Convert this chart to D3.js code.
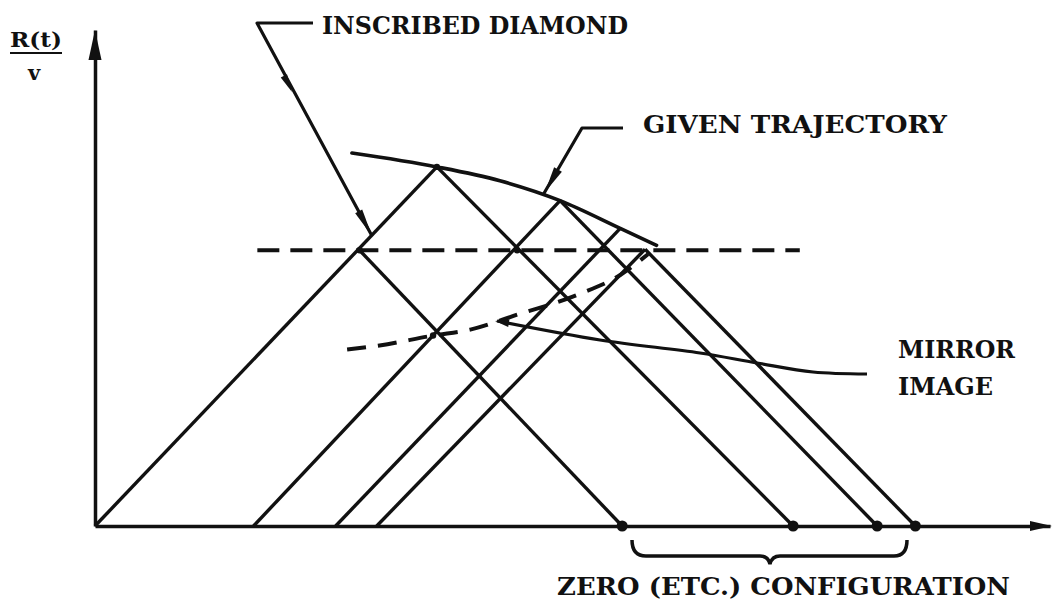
<!DOCTYPE html>
<html>
<head>
<meta charset="utf-8">
<script src="https://cdn.jsdelivr.net/npm/d3@7.9.0/dist/d3.min.js"></script>
<style>
  html, body { margin: 0; padding: 0; background: #fff; }
  svg { display: block; }
  .lbl { font-family: 'DejaVu Serif', 'Liberation Serif', serif; font-weight: bold; fill: #111; }
</style>
</head>
<body>
<div id="chart"></div>
<script>
// time axis (t) and R(t)/v values
const trajT = [26.9, 35.8, 42.4, 48.7, 55.0, 58.8];
const trajR = [37.6, 36.2, 34.8, 32.8, 30.0, 28.3];

const mirrorT = [26.4, 29.8, 35.4, 39.3, 44.2, 50.5, 55.0, 57.9];
const mirrorR = [17.8, 18.2, 19.2, 19.8, 21.3, 23.3, 25.3, 27.4];

// rising 45 deg lines: foot on the t axis -> top point
const riseFootT = [0, 16.6, 25.2, 29.5];
const riseTopT  = [35.8, 48.7, 55.0, 57.6];
const riseTopR  = [36.2, 32.8, 30.0, 27.9];

// falling 45 deg lines: start point -> foot on the t axis
const fallStartT = [35.8, 27.7, 48.7, 57.6];
const fallStartR = [36.2, 27.8, 32.8, 27.9];
const fallFootT  = [73.1, 55.2, 81.9, 85.9];

const levelR = 27.8;
const levelSpanT = [17.0, 73.8];

const zeroT = [55.2, 73.1, 81.9, 85.9];

const cornerT = [27.7, 44.2, 35.4, 35.8];
const cornerR = [27.8, 27.8, 19.2, 36.2];

const width = 1054, height = 602;

const svg = d3.select('#chart').append('svg')
  .attr('width', width)
  .attr('height', height);

const x = d3.scaleLinear().domain([0, 100]).range([95, 1050]);
const y = d3.scaleLinear().domain([0, 50]).range([526, 30]);

const ink = '#111';

// axes, no ticks
svg.append('g')
  .attr('transform', `translate(0,${y(0)})`)
  .call(d3.axisBottom(x).ticks(0).tickSizeOuter(0))
  .call(g => g.select('.domain').attr('stroke', ink).attr('stroke-width', 3.5));

svg.append('g')
  .attr('transform', `translate(${x(0)},0)`)
  .call(d3.axisLeft(y).ticks(0).tickSizeOuter(0))
  .call(g => g.select('.domain').attr('stroke', ink).attr('stroke-width', 3.5));

// filled arrow head: tip point, direction taken from a point behind it
function arrowHead(tip, from, len, half) {
  const dx = tip[0] - from[0], dy = tip[1] - from[1];
  const d = Math.hypot(dx, dy);
  const ux = dx / d, uy = dy / d;
  const bx = tip[0] - ux * len, by = tip[1] - uy * len;
  return [tip, [bx - uy * half, by + ux * half], [bx + uy * half, by - ux * half]];
}

function drawHead(tip, from, len, half) {
  svg.append('polygon')
    .attr('points', arrowHead(tip, from, len, half).join(' '))
    .attr('fill', ink);
}

drawHead([x(100) + 2, y(0)], [x(0), y(0)], 22, 5);
drawHead([x(0), y(50)], [x(0), y(0)], 30, 6.5);

// 45 degree lines
const segs = [];
riseFootT.forEach((t, i) => segs.push([[t, 0], [riseTopT[i], riseTopR[i]]]));
fallStartT.forEach((t, i) => segs.push([[t, fallStartR[i]], [fallFootT[i], 0]]));

svg.append('g').selectAll('line')
  .data(segs)
  .join('line')
    .attr('x1', d => x(d[0][0])).attr('y1', d => y(d[0][1]))
    .attr('x2', d => x(d[1][0])).attr('y2', d => y(d[1][1]))
    .attr('stroke', ink)
    .attr('stroke-width', 3.4);

// horizontal dashed level
svg.append('line')
  .attr('x1', x(levelSpanT[0])).attr('x2', x(levelSpanT[1]))
  .attr('y1', y(levelR)).attr('y2', y(levelR))
  .attr('stroke', ink)
  .attr('stroke-width', 4)
  .attr('stroke-dasharray', '22,11');

const curve = d3.line()
  .x(d => x(d[0]))
  .y(d => y(d[1]))
  .curve(d3.curveMonotoneX);

// given trajectory
svg.append('path')
  .attr('d', curve(trajT.map((t, i) => [t, trajR[i]])))
  .attr('fill', 'none')
  .attr('stroke', ink)
  .attr('stroke-width', 3.6)
  .attr('stroke-linecap', 'round');

// mirror image (dashed)
svg.append('path')
  .attr('d', curve(mirrorT.map((t, i) => [t, mirrorR[i]])))
  .attr('fill', 'none')
  .attr('stroke', ink)
  .attr('stroke-width', 4)
  .attr('stroke-dasharray', '19,12');

// dots
svg.append('g').selectAll('circle')
  .data(zeroT)
  .join('circle')
    .attr('cx', d => x(d))
    .attr('cy', y(0))
    .attr('r', 5.5)
    .attr('fill', ink);

svg.append('g').selectAll('circle')
  .data(cornerT)
  .join('circle')
    .attr('cx', d => x(d))
    .attr('cy', (d, i) => y(cornerR[i]))
    .attr('r', 3.2)
    .attr('fill', ink);

// pointer lines
const pointer = d3.line();
function leader(pts, w) {
  svg.append('path')
    .attr('d', pointer(pts))
    .attr('fill', 'none')
    .attr('stroke', ink)
    .attr('stroke-width', w)
    .attr('stroke-linejoin', 'round');
}

// inscribed diamond
leader([[313, 23], [257, 23], [372, 236]], 3.2);
drawHead([292, 92], [257, 23], 18, 3.5);
drawHead([372, 236], [257, 23], 28, 4);

// given trajectory
leader([[623, 128], [582, 128], [543, 195]], 3.2);
drawHead([545, 192], [582, 128], 26, 4.5);

// mirror image
svg.append('path')
  .attr('d', d3.line().curve(d3.curveCatmullRom)([[497, 321], [600, 340], [700, 353], [757, 363], [813, 372], [867, 374]]))
  .attr('fill', 'none')
  .attr('stroke', ink)
  .attr('stroke-width', 3.2);
drawHead([495, 321], [540, 328], 14, 4);

// brace under the zero configuration
const b = d3.path();
b.moveTo(632, 540);
b.quadraticCurveTo(632, 556, 646, 556);
b.lineTo(760, 556);
b.quadraticCurveTo(768, 556, 770, 564);
b.quadraticCurveTo(772, 556, 780, 556);
b.lineTo(894, 556);
b.quadraticCurveTo(907, 556, 907, 540);
svg.append('path')
  .attr('d', b.toString())
  .attr('fill', 'none')
  .attr('stroke', ink)
  .attr('stroke-width', 3.5);

// labels
const labels = [
  { text: 'INSCRIBED DIAMOND', x: 322, y: 34, w: 306 },
  { text: 'GIVEN TRAJECTORY', x: 643, y: 133, w: 304 },
  { text: 'MIRROR', x: 898, y: 358, w: 117 },
  { text: 'IMAGE', x: 898, y: 395, w: 95 },
  { text: 'ZERO (ETC.) CONFIGURATION', x: 557, y: 595, w: 453 }
];

svg.append('g').selectAll('text')
  .data(labels)
  .join('text')
    .attr('class', 'lbl')
    .attr('x', d => d.x)
    .attr('y', d => d.y)
    .attr('font-size', 25)
    .attr('textLength', d => d.w)
    .attr('lengthAdjust', 'spacingAndGlyphs')
    .text(d => d.text);

// y axis title R(t) / v
const yt = svg.append('g').attr('class', 'lbl');
yt.append('text')
  .attr('x', 36).attr('y', 47)
  .attr('text-anchor', 'middle')
  .attr('font-size', 20)
  .attr('textLength', 52)
  .attr('lengthAdjust', 'spacingAndGlyphs')
  .text('R(t)');
yt.append('line')
  .attr('x1', 10).attr('x2', 62)
  .attr('y1', 53).attr('y2', 53)
  .attr('stroke', ink)
  .attr('stroke-width', 2);
yt.append('text')
  .attr('x', 34).attr('y', 80)
  .attr('text-anchor', 'middle')
  .attr('font-size', 21)
  .text('v');
</script>
</body>
</html>
